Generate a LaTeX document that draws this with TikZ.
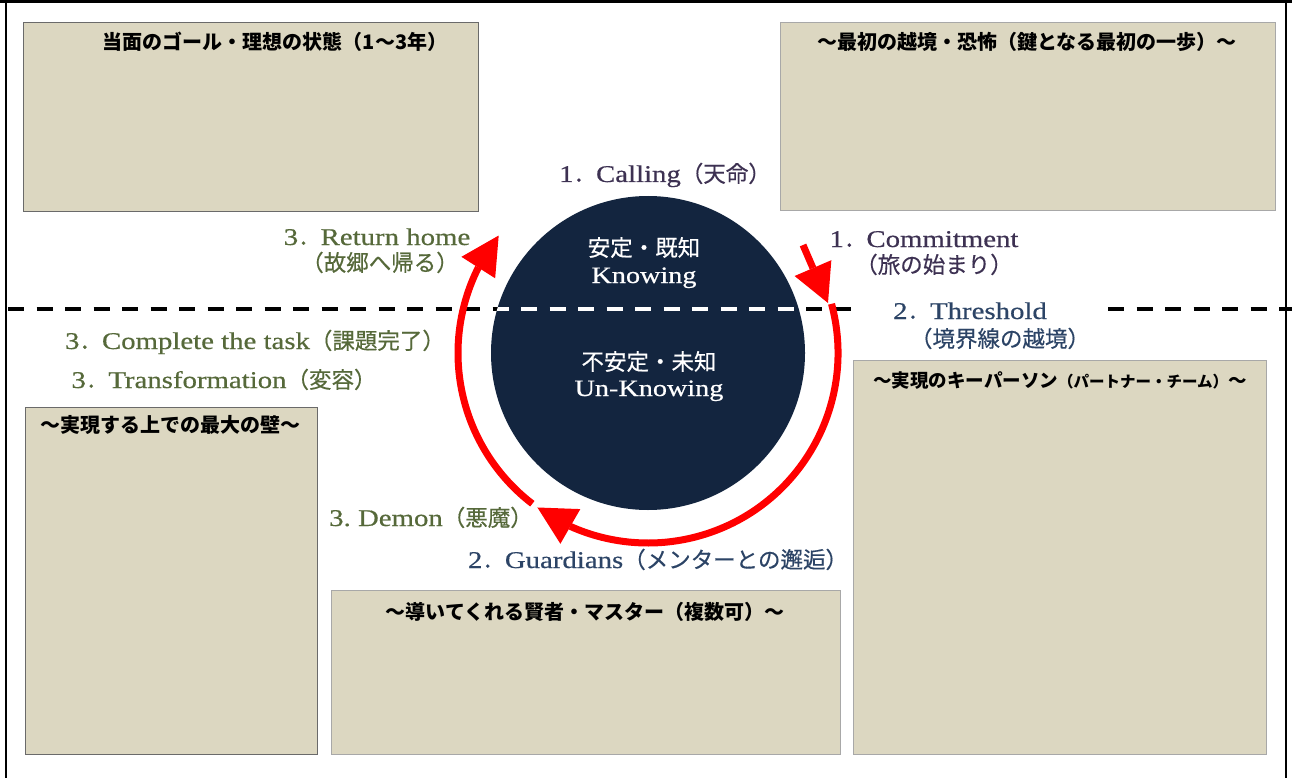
\documentclass[tikz,border=0pt]{standalone}
\usepackage{fontspec}
\setmainfont[FakeStretch=1.2,FakeBold=0.5]{Liberation Serif}
\newfontfamily\jp{Noto Sans CJK JP}
\newfontfamily\jpl[FakeBold=0.4]{Noto Sans CJK JP}
\usetikzlibrary{arrows.meta,bending}
\definecolor{boxfill}{HTML}{DCD7C1}
\definecolor{navy}{HTML}{13253F}
\definecolor{cpurple}{HTML}{3D3152}
\definecolor{cgreen}{HTML}{56693A}
\definecolor{cblue}{HTML}{2C4466}
\definecolor{cred}{HTML}{FF0000}
\definecolor{edgedark}{HTML}{6A6A6A}
\definecolor{edgelight}{HTML}{A8A8A8}
\newcommand{\J}[1]{{\jpl\fontsize{22.5}{26}\selectfont #1}}
\begin{document}
\begin{tikzpicture}[x=1pt,y=-1pt,
  card/.style={fill=boxfill,draw=#1,line width=1.2pt,inner sep=0pt,anchor=north west},
  ttl/.style={font=\jp\bfseries\fontsize{20}{24}\selectfont,text=black,inner sep=0pt,anchor=base},
  lbl/.style={font=\fontsize{24}{28}\selectfont,inner sep=0pt,text=#1,anchor=base},
  ctext/.style={font=\fontsize{23.5}{27}\selectfont,text=white,inner sep=0pt,anchor=base},
  ring/.style={draw=cred,line width=7pt},
  bighead/.style={-{Triangle[length=38pt,width=40pt,line width=0pt]}},
  divider/.style={line width=3.3pt,dash pattern=on 16pt off 12.5pt}
]
\useasboundingbox (0,0) rectangle (1292,778);
\fill[white] (0,0) rectangle (1292,778);
% frame
\fill[black] (0,0) rectangle (1292,3.5);
\draw[line width=1.5pt] (6,0) -- (6,778);
\draw[line width=1.5pt] (1286,0) -- (1286,778);
% boxes
\node[card=edgedark,minimum width=455pt,minimum height=189pt] (goal) at (23,22) {};
\node[card=edgelight,minimum width=495pt,minimum height=188pt] (fear) at (780,22) {};
\node[card=edgedark,minimum width=292pt,minimum height=347pt] (wall) at (25,407) {};
\node[card=edgelight,minimum width=509pt,minimum height=164pt] (master) at (331,590) {};
\node[card=edgelight,minimum width=413pt,minimum height=394pt] (key) at (853,360) {};
% box titles
\node[ttl] (goalt) at (275,49.5) {当面のゴール・理想の状態（1〜3年）};
\node[ttl] (feart) at (1027,49.5) {〜最初の越境・恐怖（鍵となる最初の一歩）〜};
\node[ttl] (wallt) at (170,432.5) {〜実現する上での最大の壁〜};
\node[ttl] (mastert) at (585,619.5) {〜導いてくれる賢者・マスター（複数可）〜};
\node[ttl,font=\jp\bfseries\fontsize{18.5}{22}\selectfont] (keyt) at (1060,387) {〜実現のキーパーソン{\fontsize{15.5}{19}\selectfont（パートナー・チーム）}〜};
% central circle
\node[circle,fill=navy,minimum size=314pt,inner sep=0pt] (core) at (648,353) {};
% divider line
\coordinate (dl0) at (8,309);
\coordinate (dl1) at (862,309);
\coordinate (dr0) at (1108,309);
\coordinate (dr1) at (1292,309);
\draw[divider] (dl0) -- (dl1);
\draw[divider] (dr0) -- (dr1);
\begin{scope}
  \clip (core.center) circle[radius=157];
  \draw[divider,white] (dl0) -- (dl1);
\end{scope}
% circle texts
\node[ctext,font=\jpl\fontsize{22.5}{26}\selectfont] (k1) at (644,256) {安定・既知};
\node[ctext] (k2) at (644,283) {Knowing};
\node[ctext,font=\jpl\fontsize{22.5}{26}\selectfont] (u1) at (649,370) {不安定・未知};
\node[ctext] (u2) at (649,396) {Un-Knowing};
% stage labels
\node[lbl=cpurple] (calling) at (665,182) {1\J{．}Calling\J{（天命）}};
\node[lbl=cpurple] (commit1) at (924,247) {1\J{．}Commitment};
\node[lbl=cpurple] (commit2) at (934,273) {\J{（旅の始まり）}};
\node[lbl=cblue] (thresh1) at (970,319) {2\J{．}Threshold};
\node[lbl=cblue] (thresh2) at (1000,347) {\J{（境界線の越境）}};
\node[lbl=cgreen] (ret1) at (377,245) {3\J{．}Return home};
\node[lbl=cgreen] (ret2) at (380,271) {\J{（故郷へ帰る）}};
\node[lbl=cgreen] (complete) at (255,349) {3\J{．}Complete the task\J{（課題完了）}};
\node[lbl=cgreen] (transf) at (224,388) {3\J{．}Transformation\J{（変容）}};
\node[lbl=cgreen] (demon) at (431,526) {3.\ Demon\J{（悪魔）}};
\node[lbl=cblue] (guard) at (658,568) {2\J{．}Guardians\J{（メンターとの邂逅）}};
% red cycle arrows
\path (core.center) ++(-15:190) coordinate (a1s);
\path (core.center) ++(127.5:190) coordinate (a2s);
\coordinate (s0) at (803,245);
\coordinate (s1) at (828,303);
\draw[ring,bighead] (s0) -- (s1);
\draw[ring,bighead] (a1s) arc[start angle=-15,end angle=125.6,radius=190];
\draw[ring,bighead] (a2s) arc[start angle=127.5,end angle=218.2,radius=190];
\end{tikzpicture}
\end{document}
